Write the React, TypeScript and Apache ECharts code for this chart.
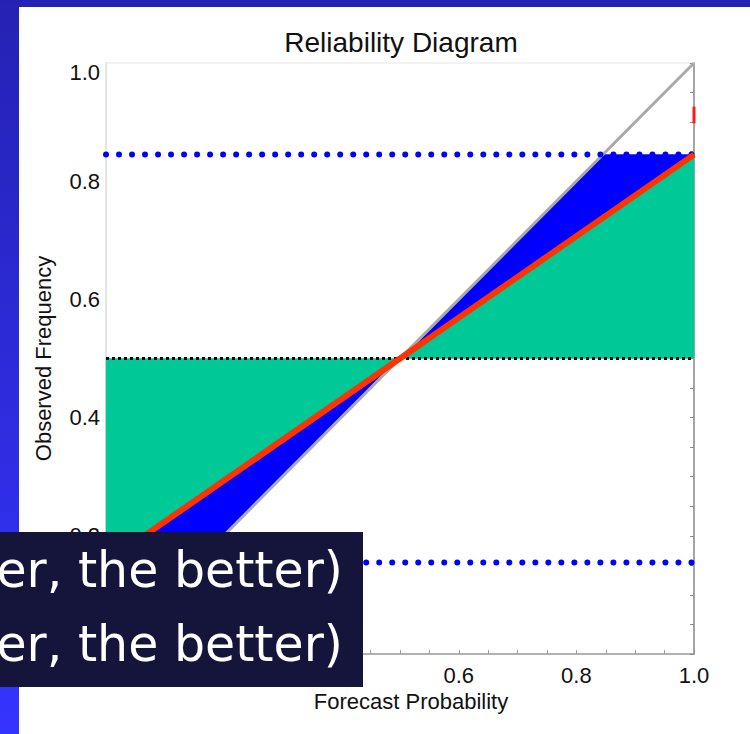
import React, { useEffect, useRef } from "react";
import * as echarts from "echarts";

// ---- data ----
const titleText = "Reliability Diagram";
const xName = "Forecast Probability";
const yName = "Observed Frequency";
// tick labels that are covered by the dark caption box in the reference
const hiddenXLabels = [0, 0.2, 0.4];
const hiddenYLabels = [0];

// reliability curve (red)
const forecastProbability = [0, 0.5, 1.0];
const observedFrequency = [0.155, 0.5, 0.845];

// perfect reliability (diagonal)
const perfectX = [0, 1];
const perfectY = [0, 1];

// climatology (black dotted) and blue dotted bounds
const climatology = 0.5;
const upperBound = 0.845;
const lowerBound = 0.155;

// shaded regions (vertices in data units)
const resolutionAreas: number[][][] = [
  [[0, 0.5], [0, 0.155], [0.5, 0.5]],
  [[0.5, 0.5], [1, 0.845], [1, 0.5]],
];
const reliabilityAreas: number[][][] = [
  [[0.5, 0.5], [0.845, 0.845], [1, 0.845]],
  [[0.5, 0.5], [0.155, 0.155], [0, 0.155]],
];

// small red mark on right edge
const redMark = [[1, 0.898], [1, 0.926]];

const overlayLines = ["er, the better)", "er, the better)"];

const AXIS_FONT = "'Liberation Sans', Arial, Helvetica, sans-serif";

const isIn = (arr: number[], v: number) => arr.some((a) => Math.abs(a - v) < 1e-9);

export default function App() {
  const ref = useRef<HTMLDivElement>(null);

  useEffect(() => {
    if (!ref.current) return;
    const chart = echarts.init(ref.current, null, { renderer: "svg" });

    const polySeries = (areas: number[][][], color: string, z: number) => ({
      type: "custom",
      xAxisIndex: 0,
      yAxisIndex: 0,
      z,
      silent: true,
      data: areas.map((_, i) => [i]),
      renderItem: (params: any, api: any) => {
        const pts = areas[params.dataIndex].map((p) => api.coord(p));
        return {
          type: "polygon",
          shape: { points: pts },
          style: { fill: color, stroke: color, lineWidth: 0.5 },
        };
      },
    });

    const hLine = (y: number) => [[0, y], [1, y]];

    const option: any = {
      animation: false,
      title: {
        text: titleText,
        left: 401,
        textAlign: "center",
        top: 28,
        padding: 0,
        textStyle: { fontFamily: AXIS_FONT, fontSize: 28, fontWeight: "normal", color: "#111" },
      },
      grid: { left: 106, right: 56, top: 63, bottom: 80 },
      xAxis: [
        {
          type: "value",
          position: "bottom",
          min: 0,
          max: 1,
          interval: 0.2,
          name: xName,
          nameLocation: "middle",
          nameGap: 35,
          nameTextStyle: { fontFamily: AXIS_FONT, fontSize: 22, color: "#111", padding: [0, 0, 0, 22] },
          axisLine: { show: true, onZero: false, lineStyle: { color: "#999", width: 1.5 } },
          axisTick: { show: true, inside: true, length: 4, lineStyle: { color: "#999" } },
          minorTick: { show: true, splitNumber: 4, length: 4, lineStyle: { color: "#999" } },
          splitLine: { show: false },
          axisLabel: {
            fontFamily: AXIS_FONT,
            fontSize: 22,
            color: "#111",
            margin: 10,
            formatter: (v: number) => (isIn(hiddenXLabels, v) ? "" : v.toFixed(1)),
          },
        },
        {
          type: "value",
          position: "top",
          min: 0,
          max: 1,
          interval: 0.2,
          axisLine: { show: true, onZero: false, lineStyle: { color: "#eeeeee", width: 1.5 } },
          axisTick: { show: false },
          axisLabel: { show: false },
          splitLine: { show: false },
        },
      ],
      yAxis: [
        {
          type: "value",
          position: "left",
          min: 0,
          max: 1,
          interval: 0.2,
          name: yName,
          nameLocation: "middle",
          nameGap: 52,
          nameRotate: 90,
          nameTextStyle: { fontFamily: AXIS_FONT, fontSize: 22, color: "#111" },
          axisLine: { show: true, onZero: false, lineStyle: { color: "#dddddd", width: 1.5 } },
          axisTick: { show: false },
          splitLine: { show: false },
          axisLabel: {
            fontFamily: AXIS_FONT,
            fontSize: 22,
            color: "#111",
            margin: 6,
            formatter: (v: number) =>
              isIn(hiddenYLabels, v) ? "" : v === 1 ? "{top|1.0}" : v.toFixed(1),
            rich: {
              top: { fontFamily: AXIS_FONT, fontSize: 22, color: "#111", padding: [18, 0, 0, 0] },
            },
          },
        },
        {
          type: "value",
          position: "right",
          min: 0,
          max: 1,
          interval: 0.2,
          axisLine: { show: true, onZero: false, lineStyle: { color: "#888", width: 1.5 } },
          axisTick: { show: true, inside: true, length: 4, lineStyle: { color: "#888" } },
          minorTick: { show: true, splitNumber: 4, length: 4, lineStyle: { color: "#888" } },
          axisLabel: { show: false },
          splitLine: { show: false },
        },
      ],
      series: [
        polySeries(resolutionAreas, "#00c896", 1),
        polySeries(reliabilityAreas, "#0000ff", 2),
        {
          type: "line",
          z: 3,
          silent: true,
          showSymbol: false,
          data: perfectX.map((x, i) => [x, perfectY[i]]),
          lineStyle: { color: "#aaaaaa", width: 3 },
        },
        {
          type: "line",
          z: 4,
          silent: true,
          showSymbol: false,
          data: hLine(climatology),
          lineStyle: { color: "#000", width: 3, type: [3, 3] },
        },
        {
          type: "line",
          z: 4,
          silent: true,
          showSymbol: false,
          data: hLine(upperBound),
          lineStyle: { color: "#0000ff", width: 6, type: [0.01, 13], cap: "round" },
        },
        {
          type: "line",
          z: 4,
          silent: true,
          showSymbol: false,
          data: hLine(lowerBound),
          lineStyle: { color: "#0000ff", width: 6, type: [0.01, 13], cap: "round" },
        },
        {
          type: "line",
          z: 5,
          silent: true,
          showSymbol: false,
          data: forecastProbability.map((x, i) => [x, observedFrequency[i]]),
          lineStyle: { color: "#ff3300", width: 6 },
        },
        {
          type: "line",
          z: 5,
          silent: true,
          showSymbol: false,
          clip: false,
          data: redMark,
          lineStyle: { color: "#ff1a1a", width: 3 },
        },
      ],
      graphic: [
        {
          type: "rect",
          z: -100,
          silent: true,
          shape: { x: 19, y: 7, width: 731, height: 727 },
          style: { fill: "#ffffff" },
        },
        {
          type: "rect",
          z: 1000,
          silent: true,
          shape: { x: 0, y: 532, width: 363, height: 155 },
          style: { fill: "#15143a" },
        },
        {
          type: "text",
          z: 1001,
          silent: true,
          x: 343,
          y: 570,
          style: {
            text: overlayLines[0],
            fill: "#ffffff",
            fontFamily: "'DejaVu Sans', sans-serif",
            fontSize: 49,
            align: "right",
            verticalAlign: "middle",
          },
        },
        {
          type: "text",
          z: 1001,
          silent: true,
          x: 343,
          y: 644,
          style: {
            text: overlayLines[1],
            fill: "#ffffff",
            fontFamily: "'DejaVu Sans', sans-serif",
            fontSize: 49,
            align: "right",
            verticalAlign: "middle",
          },
        },
      ],
    };

    chart.setOption(option);
    return () => chart.dispose();
  }, []);

  return (
    <div
      style={{
        position: "fixed",
        left: 0,
        top: 0,
        width: 750,
        height: 734,
        background: "linear-gradient(to bottom, #2522b3, #3434ff)",
      }}
    >
      <div ref={ref} style={{ width: 750, height: 734 }} />
    </div>
  );
}
